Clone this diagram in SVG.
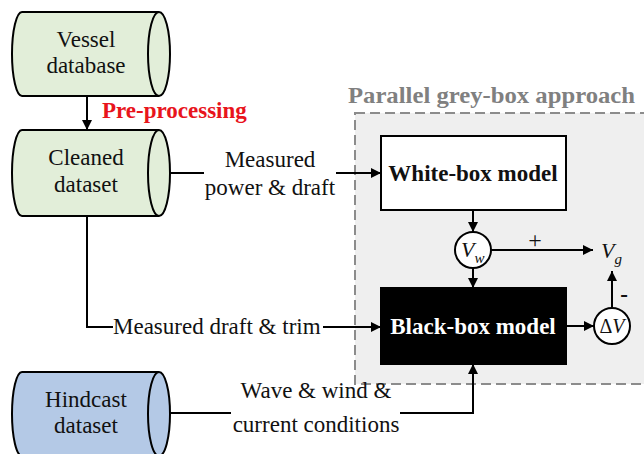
<svg xmlns="http://www.w3.org/2000/svg" width="644" height="454" viewBox="0 0 644 454">
<style>
  text { font-family: "Liberation Serif", "Times New Roman", serif; font-size: 23px; fill: #111; }
  .c { text-anchor: middle; }
  .b { font-weight: bold; }
  .cyl { stroke: #000; stroke-width: 2; }
  .green { fill: #e2eed9; }
  .blue { fill: #b4c9e6; }
  .ln { fill: none; stroke: #000; stroke-width: 2; }
  .it { font-style: italic; }
</style>
<defs>
  <marker id="ah" viewBox="0 0 10 10" refX="10" refY="5" markerWidth="10" markerHeight="10" markerUnits="userSpaceOnUse" orient="auto">
    <path d="M0,0 L10,5 L0,10 Z" fill="#000"/>
  </marker>
</defs>
<rect width="644" height="454" fill="#fff"/>

<g id="greybox">
  <rect x="355" y="113" width="300" height="271" fill="#efefef" stroke="#8c8c8c" stroke-width="2" stroke-dasharray="10 5"/>
  <text class="b" x="348" y="103" textLength="287" lengthAdjust="spacingAndGlyphs" style="fill:#808080;font-size:24px">Parallel grey-box approach</text>
</g>

<g id="vessel">
  <path class="cyl green" d="M22,12 H159 A11,42 0 0 1 159,96 H22 A10,42 0 0 1 22,12 Z"/>
  <path class="cyl green" d="M159,12 A11,42 0 0 0 159,96"/>
  <text class="c" x="86" y="47">Vessel</text>
  <text class="c" x="86" y="73">database</text>
</g>

<g id="cleaned">
  <path class="cyl green" d="M22,130 H159 A11,43 0 0 1 159,216 H22 A10,43 0 0 1 22,130 Z"/>
  <path class="cyl green" d="M159,130 A11,43 0 0 0 159,216"/>
  <text class="c" x="86" y="165">Cleaned</text>
  <text class="c" x="86" y="192">dataset</text>
</g>

<g id="hindcast">
  <path class="cyl blue" d="M22,372 H159 A11,42 0 0 1 159,456 H22 A10,42 0 0 1 22,372 Z"/>
  <path class="cyl blue" d="M159,372 A11,42 0 0 0 159,456"/>
  <text class="c" x="86" y="407">Hindcast</text>
  <text class="c" x="86" y="433">dataset</text>
</g>

<g id="whitebox">
  <rect x="381" y="136" width="185" height="74" fill="#fff" stroke="#000" stroke-width="2"/>
  <text class="c b" x="473" y="181">White-box model</text>
</g>

<g id="blackbox">
  <rect x="381" y="288" width="185" height="76" fill="#000" stroke="#000" stroke-width="2"/>
  <text class="c b" x="473" y="334" style="fill:#fff">Black-box model</text>
</g>

<g id="vw">
  <circle cx="473" cy="250" r="18" fill="#fff" stroke="#000" stroke-width="2"/>
  <text x="461" y="257" class="it" style="font-size:22px">V<tspan class="it" font-size="15" dy="6">w</tspan></text>
</g>

<g id="dv">
  <circle cx="612" cy="326" r="18" fill="#fff" stroke="#000" stroke-width="2"/>
  <text class="c" x="612" y="333" style="font-size:20px">Δ<tspan class="it">V</tspan></text>
</g>

<g id="vg">
  <text x="601" y="258" class="it" style="font-size:22px">V<tspan class="it" font-size="15" dy="6">g</tspan></text>
</g>

<g id="connectors">
  <line class="ln" x1="87" y1="96" x2="87" y2="130" marker-end="url(#ah)"/>
  <text class="b" x="102" y="118" style="fill:#e8141c">Pre-processing</text>

  <line class="ln" x1="170" y1="173" x2="204" y2="173"/>
  <text class="c" x="270" y="167">Measured</text>
  <text class="c" x="270" y="195">power &amp; draft</text>
  <line class="ln" x1="336" y1="173" x2="381" y2="173" marker-end="url(#ah)"/>

  <polyline class="ln" points="87,216 87,327 113,327"/>
  <text x="113" y="334">Measured draft &amp; trim</text>
  <line class="ln" x1="323" y1="327" x2="381" y2="327" marker-end="url(#ah)"/>

  <line class="ln" x1="170" y1="413" x2="231" y2="413"/>
  <text class="c" x="316" y="398">Wave &amp; wind &amp;</text>
  <text class="c" x="316" y="432">current conditions</text>
  <polyline class="ln" points="400,413 473,413 473,364" marker-end="url(#ah)"/>

  <line class="ln" x1="473" y1="210" x2="473" y2="232" marker-end="url(#ah)"/>
  <line class="ln" x1="473" y1="268" x2="473" y2="288" marker-end="url(#ah)"/>
  <line class="ln" x1="491" y1="250" x2="593" y2="250" marker-end="url(#ah)"/>
  <text class="c" x="535" y="248" style="font-size:24px">+</text>
  <line class="ln" x1="566" y1="326" x2="594" y2="326" marker-end="url(#ah)"/>
  <line class="ln" x1="612" y1="308" x2="612" y2="271" marker-end="url(#ah)"/>
  <text class="c b" x="624" y="302">-</text>
</g>
</svg>
